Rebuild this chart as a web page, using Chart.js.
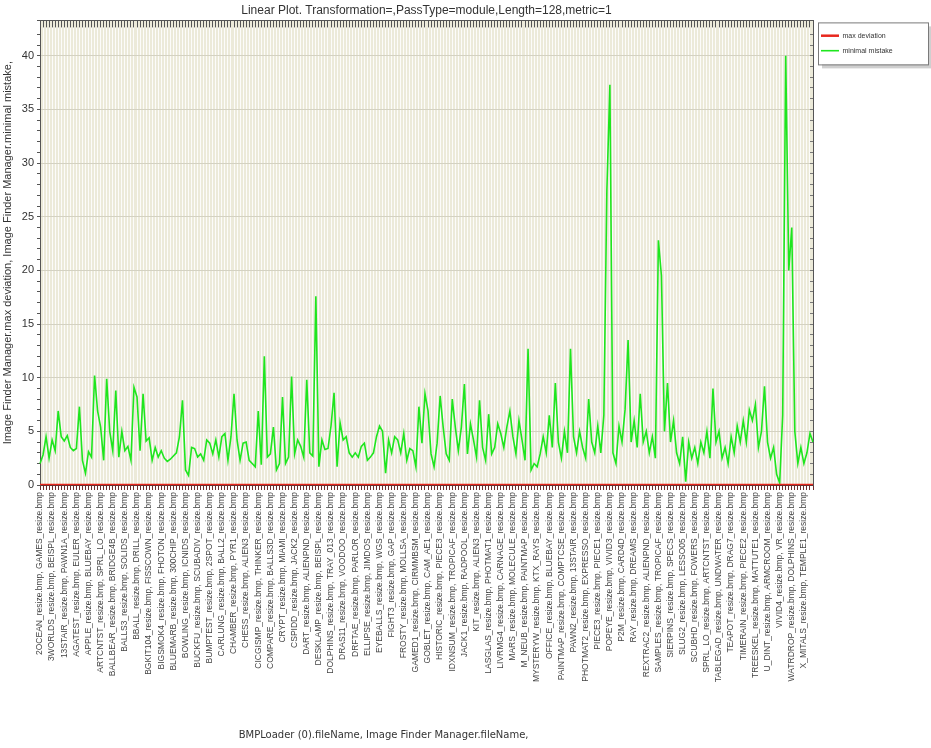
<!DOCTYPE html>
<html><head><meta charset="utf-8">
<script src="https://cdn.jsdelivr.net/npm/chart.js@4/dist/chart.umd.min.js"></script>
<style>html,body{margin:0;padding:0;background:#fff}#wrap{width:931px;height:748px}</style>
</head><body><div id="wrap"><canvas id="c" width="931" height="748"></canvas></div>
<script>
// every 4th point carries a visible label
const shownLabels = [
"2OCEAN_resize.bmp, GAMES_resize.bmp","3WORLDS_resize.bmp, BEISPL_resize.bmp","13STAIR_resize.bmp, PAWN1A_resize.bmp","AGATEST_resize.bmp, EULER_resize.bmp",
"APPLE_resize.bmp, BLUEBAY_resize.bmp","ARTCNTST_resize.bmp, SPRL_LO_resize.bmp","BALLBEAR_resize.bmp, BRIDGE4B_resize.bmp","BALLS3_resize.bmp, SOLIDS_resize.bmp",
"BBALL_resize.bmp, DRILL_resize.bmp","BGKIT104_resize.bmp, FISSCOWN_resize.bmp","BIGSMOK4_resize.bmp, FHOTON_resize.bmp","BLUEMARB_resize.bmp, 300CHIP_resize.bmp",
"BOWLING_resize.bmp, ICNIDS_resize.bmp","BUCKFU_resize.bmp, SCUBADIV_resize.bmp","BUMPTEST_resize.bmp, 2SPOT_resize.bmp","CARLUNG_resize.bmp, BALL2_resize.bmp",
"CHAMBER_resize.bmp, PYR1_resize.bmp","CHESS_resize.bmp, ALIEN3_resize.bmp","CICGISMP_resize.bmp, THINKER_resize.bmp","COMPARE_resize.bmp, BALLS3D_resize.bmp",
"CRYPT_resize.bmp, MIAMI_resize.bmp","CSPIDD_resize.bmp, JACK2_resize.bmp","DART_resize.bmp, ALIENPND_resize.bmp","DESKLAMP_resize.bmp, BEISPL_resize.bmp",
"DOLPHINS_resize.bmp, TRAY_013_resize.bmp","DRAS11_resize.bmp, VOODOO_resize.bmp","DRFTAE_resize.bmp, PARLOR_resize.bmp","ELLIPSE_resize.bmp, JIMDOS_resize.bmp",
"EYEBALLS_resize.bmp, WGS_resize.bmp","FIGHT3_resize.bmp, GAP_resize.bmp","FROSTY_resize.bmp, MOLLSA_resize.bmp","GAMED1_resize.bmp, CIRMMBSM_resize.bmp",
"GOBLET_resize.bmp, CAM_AE1_resize.bmp","HISTORIC_resize.bmp, PIECE3_resize.bmp","IDXNSUM_resize.bmp, TROPICAF_resize.bmp","JACK1_resize.bmp, RADPOOL_resize.bmp",
"KIT_resize.bmp, ALIEN3_resize.bmp","LASGLAS_resize.bmp, PHOTMAT1_resize.bmp","LIVRMG4_resize.bmp, CARNAGE_resize.bmp","MARS_resize.bmp, MOLECULE_resize.bmp",
"M_NEUB_resize.bmp, PAINTMAP_resize.bmp","MYSTERYW_resize.bmp, KTX_RAYS_resize.bmp","OFFICE_resize.bmp, BLUEBAY_resize.bmp","PAINTMAP_resize.bmp, COMPTCSE_resize.bmp",
"PAWN2_resize.bmp, 13STAIR_resize.bmp","PHOTMAT2_resize.bmp, EXPRESSO_resize.bmp","PIECE3_resize.bmp, PIECE1_resize.bmp","POPEYE_resize.bmp, VIVID3_resize.bmp",
"P2M_resize.bmp, CARD4D_resize.bmp","RAY_resize.bmp, DREAMS_resize.bmp","REXTRAC2_resize.bmp, ALIENPND_resize.bmp","SAMPLES_resize.bmp, TROPICAF_resize.bmp",
"SIERPINS_resize.bmp, SPECS_resize.bmp","SLUG2_resize.bmp, LESSO05_resize.bmp","SCUBHD_resize.bmp, FOWERS_resize.bmp","SPRL_LO_resize.bmp, ARTCNTST_resize.bmp",
"TABLEGAD_resize.bmp, UNDWATER_resize.bmp","TEAPOT_resize.bmp, DRAG7_resize.bmp","TIMERAIN_resize.bmp, PIECE2_resize.bmp","TREESKEL_resize.bmp, MATTUTE1_resize.bmp",
"U_DINT_resize.bmp, ARMCROOM_resize.bmp","VIVID4_resize.bmp, VR_resize.bmp","WATRDROP_resize.bmp, DOLPHINS_resize.bmp","X_MITALS_resize.bmp, TEMPLE1_resize.bmp"
];
const labelEvery = 4;

const minimalMistake = [
2.0,2.8,4.5,2.5,4.2,3.2,6.9,4.5,4.1,4.6,3.5,3.2,3.4,7.3,2.3,1.1,3.1,2.6,10.2,6.9,
5.4,2.3,9.9,5.0,3.2,8.8,2.6,5.0,3.2,3.6,2.3,9.1,8.2,3.2,8.5,4.1,4.4,2.3,3.5,2.6,
3.2,2.5,2.2,2.4,2.7,3.0,4.5,7.9,1.4,0.9,3.5,3.4,2.6,2.9,2.3,4.2,3.9,2.9,4.2,2.6,
4.5,4.8,2.3,4.5,8.5,4.2,2.3,3.9,4.0,2.3,2.0,1.7,6.9,1.9,12.0,2.6,2.9,5.4,1.4,2.0,
8.2,2.0,2.6,10.1,2.9,4.2,3.6,2.6,9.8,3.0,2.7,17.6,1.7,4.2,3.3,3.4,5.5,8.6,1.7,5.8,
4.2,4.5,3.0,2.6,3.0,2.6,3.6,3.9,2.3,2.6,3.0,4.5,5.5,5.0,1.1,4.2,3.0,4.5,4.2,3.0,
4.8,2.3,3.4,3.2,1.7,7.3,3.9,8.5,6.9,2.9,1.7,3.9,8.3,5.4,2.9,2.3,8.0,5.4,3.2,5.4,
9.4,2.9,5.7,4.2,2.6,7.9,3.5,2.3,6.6,2.9,3.5,5.7,4.8,3.5,5.4,6.9,4.5,2.9,6.0,4.2,
2.3,12.7,1.4,2.0,1.7,2.9,4.5,3.0,6.5,3.5,9.5,4.0,2.5,5.0,3.0,12.7,4.5,3.0,5.0,3.5,
2.5,8.0,4.0,3.0,5.5,3.0,6.5,27.5,37.3,3.0,2.0,5.5,4.0,7.0,13.5,4.0,6.0,3.5,8.5,4.0,
5.0,3.0,4.5,2.5,22.8,19.5,5.0,9.5,4.0,6.0,3.0,2.0,4.5,0.3,4.0,2.5,3.5,2.0,4.0,3.0,
5.0,2.5,9.0,4.0,5.0,2.5,3.5,2.0,4.5,3.0,5.5,4.0,6.0,4.0,7.0,6.0,7.5,3.5,5.0,9.2,
4.0,2.5,3.5,1.0,0.2,6.5,40.0,20.0,24.0,5.0,2.0,3.5,2.0,3.0,4.8,4.0
];
const maxDeviation = [
0,0,0,0,0,0,0,0,0,0,0,0,0,0,0,0,0,0,0,0,0,0,0,0,0,0,0,0,0,0,0,0,
0,0,0,0,0,0,0,0,0,0,0,0,0,0,0,0,0,0,0,0,0,0,0,0,0,0,0,0,0,0,0,0,
0,0,0,0,0,0,0,0,0,0,0,0,0,0,0,0,0,0,0,0,0,0,0,0,0,0,0,0,0,0,0,0,
0,0,0,0,0,0,0,0,0,0,0,0,0,0,0,0,0,0,0,0,0,0,0,0,0,0,0,0,0,0,0,0,
0,0,0,0,0,0,0,0,0,0,0,0,0,0,0,0,0,0,0,0,0,0,0,0,0,0,0,0,0,0,0,0,
0,0,0,0,0,0,0,0,0,0,0,0,0,0,0,0,0,0,0,0,0,0,0,0,0,0,0,0,0,0,0,0,
0,0,0,0,0,0,0,0,0,0,0,0,0,0,0,0,0,0,0,0,0,0,0,0,0,0,0,0,0,0,0,0,
0,0,0,0,0,0,0,0,0,0,0,0,0,0,0,0,0,0,0,0,0,0,0,0,0,0,0,0,0,0,0,0
];
const yMax = 43.3;
const yMajorStep = 5;

const categories = minimalMistake.map((_, i) => (i % labelEvery === 0 ? (shownLabels[i / labelEvery] || '') : ''));

const plotBg = {
  id: 'plotBg',
  beforeUpdate(chart) {
    const lg = chart.legend;
    if (lg && !lg._patched) {
      const orig = lg.fit;
      lg.fit = function () { orig.call(this); this.width = 118; };
      lg._patched = true;
    }
  },
  beforeDraw(chart) {
    const {ctx, chartArea: a, legend: lg} = chart;
    ctx.save();
    ctx.fillStyle = '#ecead9';
    ctx.fillRect(a.left, a.top, a.right - a.left, a.bottom - a.top);
    if (lg) {
      const x = lg.left + 5, y = a.top + 2, w = 110, h = 42;
      ctx.fillStyle = '#cfcfcf';
      ctx.fillRect(x + 4, y + 4, w, h);
      ctx.fillStyle = '#ffffff';
      ctx.fillRect(x, y, w, h);
      ctx.strokeStyle = '#7a7a7a';
      ctx.lineWidth = 1;
      ctx.strokeRect(x + 0.5, y + 0.5, w, h);
    }
    ctx.restore();
  }
};

new Chart(document.getElementById('c'), {
  type: 'line',
  data: {
    labels: categories,
    datasets: [
      {label: 'max deviation', data: maxDeviation, borderColor: '#e8281e', backgroundColor: '#e8281e', borderWidth: 2.5, pointRadius: 0, tension: 0},
      {label: 'minimal mistake', data: minimalMistake, borderColor: '#1ee61e', backgroundColor: '#1ee61e', borderWidth: 1.6, pointRadius: 0, tension: 0}
    ]
  },
  options: {
    responsive: false,
    animation: false,
    layout: {padding: 0},
    plugins: {
      title: {display: true, fullSize: false, text: 'Linear Plot. Transformation=,PassType=module,Length=128,metric=1',
        font: {family: 'Liberation Sans', size: 12, weight: 'normal'}, color: '#333', padding: {top: 3, bottom: 3}},
      legend: {position: 'right', align: 'start',
        title: {display: true, text: ' ', font: {size: 1}, padding: {top: 23, bottom: 0}},
        labels: {usePointStyle: true, pointStyle: 'line', pointStyleWidth: 18, font: {family: 'Liberation Sans', size: 7}, color: '#333', padding: 8}},
      tooltip: {enabled: false}
    },
    scales: {
      x: {
        type: 'category',
        offset: false,
        ticks: {autoSkip: false, maxRotation: 90, minRotation: 90, font: {family: 'Liberation Sans', size: 8.5}, color: '#444', padding: 2,
          callback: (v, i) => categories[i]},
        grid: {color: 'rgba(255,255,255,0.85)', lineWidth: 1, tickColor: '#6b3030', tickLength: 5},
        border: {color: '#6b3030', width: 1},
        title: {display: true, text: 'BMPLoader (0).fileName, Image Finder Manager.fileName,                           ',
          font: {family: 'DejaVu Sans', size: 10}, color: '#333', padding: {top: 0, bottom: 7}},
        afterFit(s) { s.height = 263; }
      },
      xTop: {
        type: 'category',
        position: 'top',
        offset: false,
        ticks: {display: false},
        grid: {drawOnChartArea: false, tickLength: -7, tickColor: '#555'},
        border: {color: '#555'},
        afterFit(s) { s.height = 0; }
      },
      y: {
        min: 0, max: yMax,
        ticks: {stepSize: 1, autoSkip: false, font: {family: 'Liberation Sans', size: 11}, color: '#333', padding: 3,
          callback: v => (v % yMajorStep === 0 ? v : '')},
        grid: {color: c => (c.tick && c.tick.value % yMajorStep === 0 ? '#d4d2c2' : 'rgba(0,0,0,0)'), tickColor: '#555', tickLength: 3},
        border: {color: '#555'},
        title: {display: true, text: 'Image Finder Manager.max deviation, Image Finder Manager.minimal mistake,',
          font: {family: 'Liberation Sans', size: 11}, color: '#333', padding: {top: 1, bottom: 0}},
        afterFit(s) { s.width = 40; }
      },
      yRight: {
        position: 'right',
        min: 0, max: yMax,
        ticks: {display: false, stepSize: 1},
        grid: {drawOnChartArea: false, tickLength: -3, tickColor: '#777'},
        border: {color: '#555'},
        afterFit(s) { s.width = 0; }
      }
    }
  },
  plugins: [plotBg]
});
</script>
</body></html>
